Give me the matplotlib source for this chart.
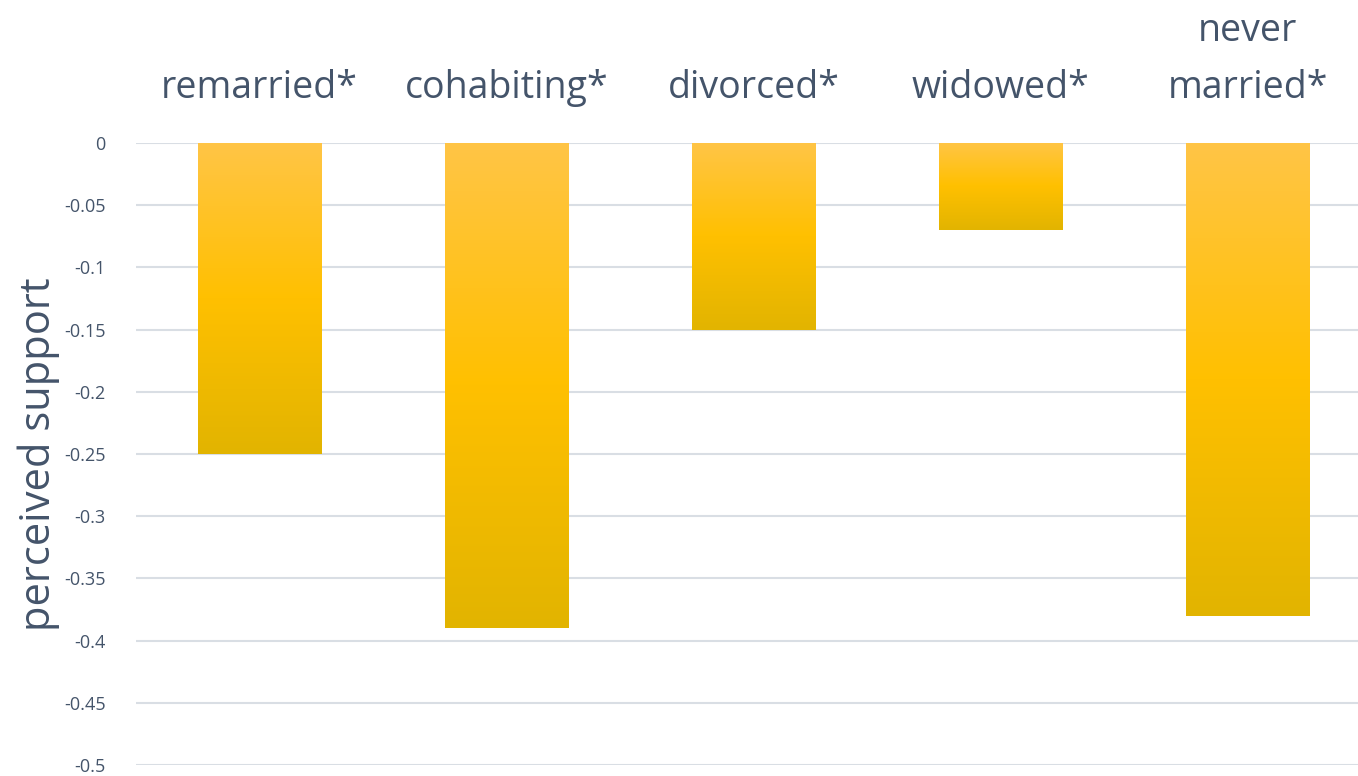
import matplotlib.pyplot as plt
import numpy as np
from matplotlib.colors import LinearSegmentedColormap

# marital status vs. perceived support
categories = ['remarried*', 'cohabiting*', 'divorced*', 'widowed*', 'never\nmarried*']
values = [-0.25, -0.39, -0.15, -0.07, -0.38]
yticks = [0, -0.05, -0.1, -0.15, -0.2, -0.25, -0.3, -0.35, -0.4, -0.45, -0.5]
ytick_labels = ['0', '-0.05', '-0.1', '-0.15', '-0.2', '-0.25', '-0.3', '-0.35', '-0.4', '-0.45', '-0.5']

text_color = '#44546A'
grid_color = '#D9DEE4'
plt.rcParams['font.family'] = ['Open Sans', 'DejaVu Sans']

W, H = 1358, 776
fig = plt.figure(figsize=(W / 100, H / 100), dpi=100)
ax = fig.add_axes([136 / W, 11 / H, 1235 / W, 622 / H])

x = np.arange(len(categories))
bars = ax.bar(x, values, width=0.5, color='none', zorder=2)

# vertical gradient fill, light at the top, darker at the bottom
cmap = LinearSegmentedColormap.from_list('gold', ['#FFC546', '#FFC000', '#E2B400'])
grad = np.linspace(0, 1, 256).reshape(-1, 1)
for b in bars:
    x0, w = b.get_x(), b.get_width()
    top, bottom = 0, b.get_height()
    im = ax.imshow(grad, cmap=cmap, aspect='auto', extent=[x0, x0 + w, bottom, top],
                   origin='upper', zorder=2)
    im.set_clip_path(b)

ax.set_xlim(-0.5, 4.5)
ax.set_ylim(-0.5, 0)
ax.set_yticks(yticks)
ax.set_yticklabels(ytick_labels, fontsize=13, color=text_color)
ax.yaxis.grid(True, color=grid_color, linewidth=1.5, zorder=0)
ax.set_axisbelow(True)
ax.tick_params(axis='y', length=0, pad=22)

ax.xaxis.tick_top()
ax.set_xticks(x)
ax.set_xticklabels(categories, fontsize=27, color=text_color, linespacing=1.65)
ax.tick_params(axis='x', length=0, pad=26)

ax.set_ylabel('perceived support', fontsize=30, color=text_color, labelpad=3)

for s in ax.spines.values():
    s.set_visible(False)

fig.savefig('out.png', dpi=100, facecolor='white')
